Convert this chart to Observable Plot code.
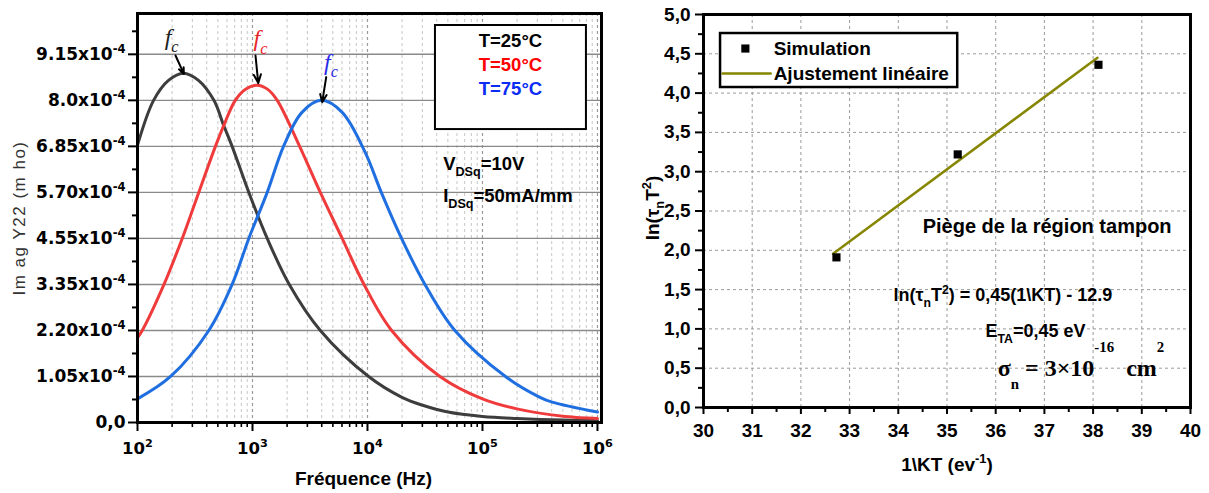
<!DOCTYPE html>
<html><head><meta charset="utf-8">
<script src="https://cdn.jsdelivr.net/npm/d3@7"></script>
<script src="https://cdn.jsdelivr.net/npm/@observablehq/plot@0.6"></script>
<style>
html,body{margin:0;padding:0;background:#fff;}
#wrap{position:relative;width:1209px;height:493px;overflow:hidden;background:#fff;}
#left{position:absolute;left:0;top:0;}
#right{position:absolute;left:620px;top:0;}
</style></head>
<body><div id="wrap"><div id="left"></div><div id="right"></div></div>
<script>
// ---------- Left chart data: Imag Y22 (x1e-4 mho) vs frequency (Hz) ----------
const freqBlack = [100,138,186,251,339,462,562,665,929,1343,2089,3890,10230,19950,30200,50120,100000,199500,501200,1000000];
const imBlack   = [6.93,8.05,8.55,8.73,8.55,8.05,7.42,6.9,5.75,4.6,3.45,2.3,1.15,0.63,0.43,0.26,0.15,0.10,0.06,0.05];
const freqRed   = [100,110,170,245,341,476,562,708,871,1096,1349,1641,2570,3890,6026,9333,16220,42660,100000,199500,524800,1000000];
const imRed     = [2.12,2.3,3.45,4.6,5.75,6.9,7.42,8.05,8.33,8.43,8.33,8.05,6.9,5.75,4.6,3.45,2.3,1.15,0.59,0.34,0.15,0.10];
const freqBlue  = [100,194,417,665,929,1343,1862,2692,3981,6026,9550,13180,19770,31620,57540,158500,316200,403600,1000000];
const imBlue    = [0.59,1.15,2.3,3.45,4.6,5.75,6.9,7.75,8.05,7.75,6.75,5.75,4.6,3.45,2.3,1.15,0.63,0.51,0.26];
const seriesNames  = ["T=25°C","T=50°C","T=75°C"];
const seriesColors = ["#3d3d3d","#ef3b3b","#1f6fe0"];
const legendColors = ["#000000","#ff0000","#0a2cf5"];
const fcColors     = ["#222222","#e8262b","#2a2ae6"];
// y tick positions (x1e-4) and their printed labels
const yTickPos   = [0,1.15,2.30,3.45,4.60,5.75,6.90,8.05,9.20];
const yTickMant  = ["0,0","1.05","2.20","3.35","4.55","5.70","6.85","8.0","9.15"];
const xDecades   = [1e2,1e3,1e4,1e5,1e6];
// fc annotations (arrow from label to peak)
const fcLabelF = [198,1175,4820];
const fcLabelV = [9.62,9.59,9.0];
const fcArrF1 = [214,1062,4375], fcArrV1 = [9.17,9.17,8.63];
const fcArrF2 = [253,1122,4036], fcArrV2 = [8.71,8.48,8.0];

// ---------- Right chart data: Arrhenius ----------
const simX = [32.73,35.22,38.11];
const simY = [1.91,3.22,4.36];
const fitX = [32.66,38.09];
const fitY = [1.955,4.45];
const xTicksR = [30,31,32,33,34,35,36,37,38,39,40];
const yTicksR = [0,0.5,1,1.5,2,2.5,3,3.5,4,4.5,5];

// ---------- helpers ----------
function richify(svg, filter, o = {}) {
  const sup = o.sup ?? 0.42, sub = o.sub ?? 0.3, sc = o.scale ?? 0.68;
  svg.querySelectorAll("text").forEach(t => {
    const s = t.textContent;
    if (!/[_^]\{/.test(s) || !filter(s)) return;
    const fs = o.fs ?? (parseFloat(getComputedStyle(t).fontSize) || 16);
    const parts = []; const re = /([_^])\{([^}]*)\}/g; let last = 0, m;
    while ((m = re.exec(s))) {
      if (m.index > last) parts.push({t: s.slice(last, m.index)});
      parts.push({t: m[2], k: m[1]}); last = re.lastIndex;
    }
    if (last < s.length) parts.push({t: s.slice(last)});
    while (t.firstChild) t.removeChild(t.firstChild);
    let off = 0;
    for (const p of parts) {
      const ts = document.createElementNS("http://www.w3.org/2000/svg", "tspan");
      const target = p.k === "^" ? -sup * fs : p.k === "_" ? sub * fs : 0;
      ts.setAttribute("dy", target - off); off = target;
      if (p.k) ts.setAttribute("font-size", sc * fs);
      ts.textContent = p.t;
      t.appendChild(ts);
    }
  });
}

const baseStyle = {fontFamily: "'Liberation Sans', Arial, sans-serif", fontSize: "18px", color: "black", background: "white"};

// ---------- Left plot ----------
const rowsL = [];
[[freqBlack, imBlack], [freqRed, imRed], [freqBlue, imBlue]].forEach(([fs, vs], k) =>
  fs.forEach((f, i) => rowsL.push({f, v: vs[i], s: seriesNames[k]})));
const xMinorL = [];
for (let e = 2; e <= 5; e++) for (let m = 2; m <= 9; m++) xMinorL.push(m * 10 ** e);
const yMinorL = yTickPos.map(v => v + 0.575);
const fcRows = fcLabelF.map((f, i) => ({f, v: fcLabelV[i], x1: fcArrF1[i], y1: fcArrV1[i], x2: fcArrF2[i], y2: fcArrV2[i], c: fcColors[i]}));
const legL = seriesNames.map((s, i) => ({s, c: legendColors[i], v: [9.52, 8.92, 8.32][i]}));

const left = Plot.plot({
  width: 620, height: 493, marginLeft: 137, marginRight: 19, marginTop: 13, marginBottom: 71,
  style: baseStyle,
  x: {type: "log", domain: [100, 1.084e6], label: null},
  y: {domain: [0, 10.22], label: null},
  marks: [
    Plot.gridX(xMinorL, {stroke: "#c6c6c6", strokeOpacity: 1, strokeDasharray: "3,3", strokeWidth: 1}),
    Plot.gridX(xDecades.slice(1), {stroke: "#9a9a9a", strokeOpacity: 1, strokeDasharray: "3,3", strokeWidth: 1.2}),
    Plot.gridY(yTickPos.slice(1), {stroke: "#8a8a8a", strokeOpacity: 1, strokeWidth: 1.4}),
    ...seriesNames.map((s, k) => Plot.line(rowsL.filter(d => d.s === s), {x: "f", y: "v", stroke: seriesColors[k], strokeWidth: 3, curve: "catmull-rom"})),
    Plot.rect([{}], {x1: 39000, x2: 801700, y1: 9.92, y2: 7.32, fill: "white", stroke: "black", strokeWidth: 2}),
    Plot.text(legL, {x: 175000, y: "v", text: "s", fill: "c", fontWeight: "bold", fontSize: 18.5}),
    Plot.text(["V_{DSq}=10V", "I_{DSq}=50mA/mm"], {x: 45500, y: (d, i) => [6.45, 5.655][i], text: d => d, textAnchor: "start", fontWeight: "bold", fontSize: 18.5}),
    Plot.arrow(fcRows, {x1: "x1", y1: "y1", x2: "x2", y2: "y2", stroke: "black", strokeWidth: 2, headLength: 9, headAngle: 45}),
    Plot.text(fcRows, {x: "f", y: "v", text: () => "f_{c}", fill: "c", fontFamily: "'Liberation Serif', 'DejaVu Serif', serif", fontStyle: "italic", fontSize: 24}),
    Plot.frame({stroke: "black", strokeWidth: 3}),
    Plot.axisY(yTickPos, {tickSize: 9, strokeWidth: 2, tickPadding: 3, label: null,
      tickFormat: d => { const i = yTickPos.indexOf(d); return i === 0 ? yTickMant[0] : `${yTickMant[i]}x10^{-4}`; },
      fontFamily: "'DejaVu Sans', sans-serif", fontWeight: "bold", fontSize: 17}),
    Plot.axisY(yMinorL, {tickSize: 5, strokeWidth: 2, tickFormat: () => "", label: null}),
    Plot.axisX(xDecades, {tickSize: 9, strokeWidth: 2, tickPadding: 11, label: null,
      tickFormat: d => `10^{${Math.round(Math.log10(d))}}`,
      fontFamily: "'DejaVu Sans', sans-serif", fontWeight: "bold", fontSize: 16.5}),
    Plot.axisX(xMinorL, {tickSize: 5, strokeWidth: 1.6, tickFormat: () => "", label: null}),
    Plot.text(["Im ag Y22 (m ho)"], {text: d => d, frameAnchor: "left", textAnchor: "middle", lineAnchor: "middle", dx: -118, rotate: -90, fontSize: 17, fill: "#333", fontFamily: "'Liberation Sans', Arial, sans-serif"}),
    Plot.text(["Fréquence (Hz)"], {text: d => d, frameAnchor: "bottom", textAnchor: "middle", lineAnchor: "middle", dx: -6, dy: 56, fontSize: 19, fontWeight: "bold"})
  ]
});
document.getElementById("left").appendChild(left);
left.querySelectorAll("text").forEach(t => { if (t.textContent === "Im ag Y22 (m ho)") t.setAttribute("letter-spacing", "1.5"); });
richify(left, () => true);

// ---------- Right plot ----------
const simRows = simX.map((x, i) => ({x, y: simY[i]}));
const fitRows = fitX.map((x, i) => ({x, y: fitY[i]}));
const xMinorR = xTicksR.slice(0, -1).map(v => v + 0.5);
const yMinorR = yTicksR.slice(0, -1).map(v => v + 0.25);
const fmtR = d => d3.format(".1f")(d).replace(".", ",");

const right = Plot.plot({
  width: 589, height: 493, marginLeft: 83, marginRight: 19, marginTop: 14, marginBottom: 86,
  style: baseStyle,
  x: {domain: [30, 40], label: null},
  y: {domain: [0, 5], label: null},
  marks: [
    Plot.gridX(xTicksR.slice(1, -1), {stroke: "#9a9a9a", strokeOpacity: 1, strokeDasharray: "3,3", strokeWidth: 1}),
    Plot.gridY(yTicksR.slice(1, -1), {stroke: "#9a9a9a", strokeOpacity: 1, strokeDasharray: "3,3", strokeWidth: 1}),
    Plot.line(fitRows, {x: "x", y: "y", stroke: "#868600", strokeWidth: 2.5}),
    Plot.dot(simRows, {x: "x", y: "y", symbol: "square", r: 4.6, fill: "black"}),
    Plot.rect([{}], {x1: 30.35, x2: 35.22, y1: 4.758, y2: 4.071, fill: "white", stroke: "black", strokeWidth: 2.5}),
    Plot.dot([{}], {x: 30.86, y: 4.567, symbol: "square", r: 4.6, fill: "black"}),
    Plot.line([30.39, 31.38], {x: d => d, y: () => 4.249, stroke: "#868600", strokeWidth: 2.5}),
    Plot.text(["Simulation", "Ajustement linéaire"], {text: d => d, x: 31.44, y: (d, i) => [4.567, 4.249][i], textAnchor: "start", fontWeight: "bold", fontSize: 19}),
    Plot.text(["Piège de la région tampon"], {text: d => d, x: 34.5, y: 2.30, textAnchor: "start", fontWeight: "bold", fontSize: 20}),
    Plot.text(["ln(τ_{n}T^{2}) = 0,45(1\\KT) - 12.9"], {text: d => d, x: 33.9, y: 1.425, textAnchor: "start", fontWeight: "bold", fontSize: 18}),
    Plot.text(["E_{TA}=0,45 eV"], {text: d => d, x: 35.79, y: 0.967, textAnchor: "start", fontWeight: "bold", fontSize: 18}),
    Plot.text(["σ_{n} = 3×10^{-16}  cm^{2}"], {text: d => d, x: 36.04, y: 0.50, textAnchor: "start", fontWeight: "bold", fontSize: 24, fontFamily: "'Liberation Serif', 'Times New Roman', serif"}),
    Plot.frame({stroke: "black", strokeWidth: 3}),
    Plot.axisY(yTicksR, {tickSize: 8, strokeWidth: 2, tickPadding: 5, label: null, tickFormat: fmtR, fontWeight: "bold", fontSize: 19}),
    Plot.axisY(yMinorR, {tickSize: 5, strokeWidth: 2, tickFormat: () => "", label: null}),
    Plot.axisX(xTicksR, {tickSize: 7, strokeWidth: 2, tickPadding: 9, label: null, tickFormat: d => String(d), fontWeight: "bold", fontSize: 19}),
    Plot.axisX(xMinorR, {tickSize: 5, strokeWidth: 2, tickFormat: () => "", label: null}),
    Plot.text(["ln(τ_{n}T^{2})"], {text: d => d, frameAnchor: "left", textAnchor: "middle", lineAnchor: "middle", dx: -51, dy: -3, rotate: -90, fontSize: 19, fontWeight: "bold"}),
    Plot.text(["1\\KT (ev^{-1})"], {text: d => d, frameAnchor: "bottom", textAnchor: "middle", lineAnchor: "middle", dx: 0, dy: 57, fontSize: 19, fontWeight: "bold"})
  ]
});
document.getElementById("right").appendChild(right);
right.querySelectorAll("text").forEach(t => { if (t.textContent.startsWith("σ")) t.setAttribute("style", "white-space:pre"); });
richify(right, s => s.startsWith("σ"), {fs: 24, sup: 1.0, sub: 0.55, scale: 0.62});
richify(right, () => true);
</script>
</body></html>
